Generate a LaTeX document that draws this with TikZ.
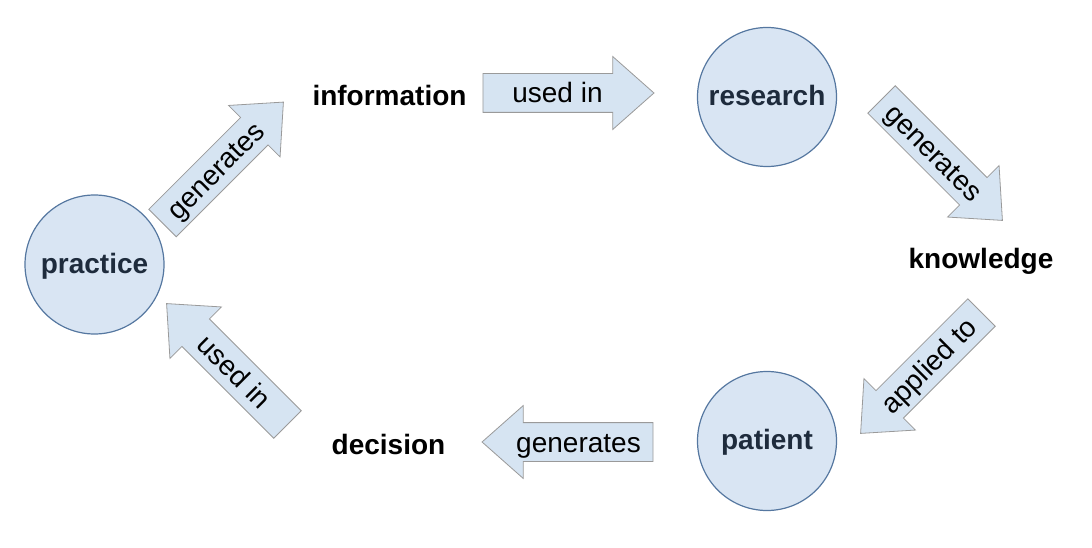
\documentclass[tikz,border=0pt]{standalone}
\usepackage{fontspec}
\setmainfont{Liberation Sans}
\usetikzlibrary{shapes.arrows}
\definecolor{cfill}{HTML}{D9E5F3}
\definecolor{cdraw}{HTML}{5577A0}
\definecolor{afill}{HTML}{D6E4F2}
\definecolor{adraw}{HTML}{9A9A9A}
\definecolor{ctext}{HTML}{1E2B3C}
\begin{document}
\begin{tikzpicture}[x=1pt,y=-1pt,
 circ/.style={circle, fill=cfill, draw=cdraw, line width=1.2pt, minimum size=139pt, inner sep=0pt, font=\fontsize{28}{32}\selectfont\bfseries, text=ctext, text height=21pt, text depth=4pt},
 word/.style={font=\fontsize{28}{32}\selectfont\bfseries, inner sep=0pt, text height=21pt, text depth=4pt},
 barrow/.style={single arrow, fill=afill, draw=adraw, line width=0.8pt, font=\fontsize{28}{32}\selectfont, minimum height=171pt, text height=23pt, text depth=3pt, inner xsep=4pt, inner ysep=6pt, single arrow head extend=17pt, single arrow tip angle=83},
 back/.style={shape border rotate=180}]
\useasboundingbox (0,0) rectangle (1092,548);
\node[circ] (practice) at (94.5,264.5) {practice};
\node[circ] (research) at (767,97) {research};
\node[circ] (patient) at (767,441) {patient};
\node[word] (information) at (389.5,97) {information};
\node[word] (knowledge) at (981,260) {knowledge};
\node[word] (decision) at (388.5,446) {decision};
\node[barrow, rotate=45] (a1) at (215.2,170.3) {generates};
\node[barrow] (a2) at (557.5,93) {used in};
\node[barrow, rotate=-45] (a3) at (934.2,152.2) {generates};
\node[barrow, back, rotate=45] (a4) at (928.8,365.2) {applied to};
\node[barrow, back] (a5) at (578.5,442) {generates};
\node[barrow, back, rotate=-45] (a6) at (234.8,371.8) {used in};
\end{tikzpicture}
\end{document}
